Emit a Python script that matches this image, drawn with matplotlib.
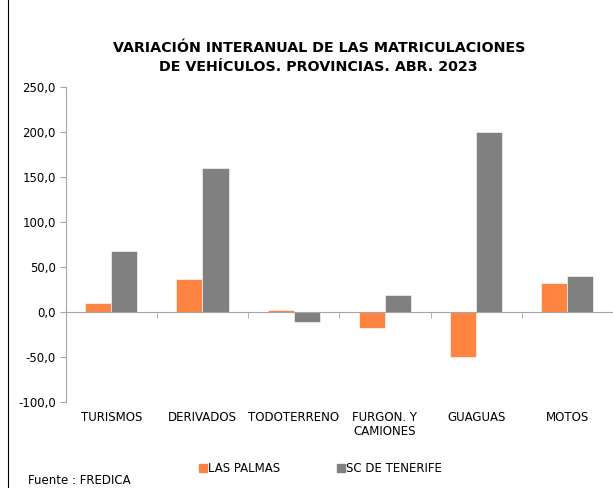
import numpy as np
import matplotlib
matplotlib.use('Agg')
import matplotlib.pyplot as plt
from matplotlib.lines import Line2D

# datos
categorias = ["TURISMOS", "DERIVADOS", "TODOTERRENO", "FURGON. Y\nCAMIONES", "GUAGUAS", "MOTOS"]
las_palmas = [9.8, 36.7, 1.8, -18.0, -50.0, 32.0]
sc_tenerife = [67.5, 159.8, -10.8, 18.5, 199.8, 39.5]
series = ["LAS PALMAS", "SC DE TENERIFE"]
y_ticks = [-100, -50, 0, 50, 100, 150, 200, 250]

naranja = "#ff8441"
gris = "#808080"
eje = "#a6a6a6"

plt.rcParams['font.family'] = ['DejaVu Sans']

fig = plt.figure(figsize=(6.13, 4.88), dpi=100)
ax = fig.add_axes([0.107, 0.176, 0.893, 0.646])

x = np.arange(len(categorias))
w = 0.286
ax.bar(x - w / 2, las_palmas, w, color=naranja, edgecolor="white", linewidth=0.4, label=series[0])
ax.bar(x + w / 2, sc_tenerife, w, color=gris, edgecolor="white", linewidth=0.4, label=series[1])

ax.set_xlim(-0.5, len(categorias) - 0.5)
ax.set_ylim(-100, 250)
ax.set_yticks(y_ticks)
ax.set_yticklabels([f"{v:.1f}".replace(".", ",") for v in y_ticks], fontsize=8.5)

for s in ["top", "right"]:
    ax.spines[s].set_visible(False)
ax.spines["left"].set_color(eje)
ax.spines["bottom"].set_color(eje)
ax.spines["bottom"].set_position(("data", 0))
ax.tick_params(axis="y", length=4, color=eje, pad=3)

# ticks en el eje x: marcas en los limites de categoria
ax.set_xticks(x)
ax.set_xticklabels([])
ax.tick_params(axis="x", which="major", length=0)
ax.set_xticks(np.arange(len(categorias) + 1) - 0.5, minor=True)
ax.tick_params(axis="x", which="minor", length=4, color=eje, direction="out")

for xi, cat in zip(x, categorias):
    ax.text(xi, -0.028, cat, transform=ax.get_xaxis_transform(), ha="center", va="top",
            fontsize=8.5, linespacing=1.15)

fig.text(0.52, 0.882, "VARIACIÓN INTERANUAL DE LAS MATRICULACIONES\nDE VEHÍCULOS. PROVINCIAS. ABR. 2023",
         ha="center", va="center", fontsize=10.3, fontweight="bold", linespacing=1.4)

handles = [Line2D([], [], marker="s", linestyle="", color=naranja, markersize=6),
           Line2D([], [], marker="s", linestyle="", color=gris, markersize=6)]
fig.legend(handles, series, loc="center", bbox_to_anchor=(0.522, 0.04), ncol=2, frameon=False,
           fontsize=8.5, handletextpad=0.0, columnspacing=4.8, handlelength=0.8)

fig.text(0.046, 0.016, "Fuente : FREDICA", fontsize=8.5, ha="left", va="center")

# borde izquierdo
fig.add_artist(Line2D([0.013, 0.013], [0, 1], transform=fig.transFigure, color="black", linewidth=0.8))

fig.savefig("out.png", dpi=100)
